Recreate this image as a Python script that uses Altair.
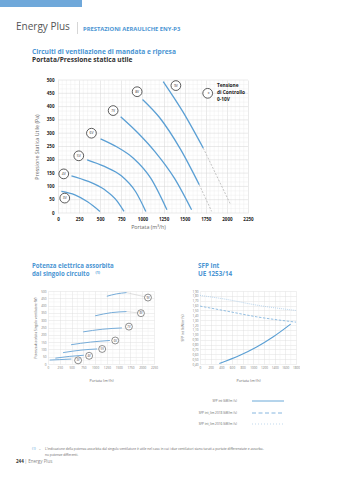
import altair as alt
import pandas as pd

FONT = "Open Sans"
BLUE = "#4a95d3"
CURVE = "#5a9fd4"
DARK = "#333333"
GRAY = "#666666"

# ---------------- data: main chart (Portata / Pressione statica utile)
main_x_ticks = [0, 250, 500, 750, 1000, 1250, 1500, 1750, 2000, 2250]
main_y_ticks = [0, 50, 100, 150, 200, 250, 300, 350, 400, 450, 500]
main_speeds = ["3V", "4V", "5V", "6V", "7V", "8V", "9V"]
main_cx = [[40, 200, 350, 496], [159, 350, 550, 700, 782], [345, 550, 750, 920, 1040],
           [504, 700, 893, 1100, 1290], [742, 950, 1150, 1380, 1582],
           [1001, 1200, 1450, 1673], [1246, 1480, 1720]]
main_cy = [[81, 68, 42, 6], [140, 120, 88, 45, 6], [200, 175, 140, 80, 6],
           [279, 248, 206, 130, 12], [362, 300, 230, 130, 12],
           [427, 360, 240, 106], [494, 380, 244]]
main_ext_speeds = ["8V", "9V"]
main_ext_x = [[1673, 1820], [1720, 2045]]
main_ext_y = [[106, 6], [244, 31]]
main_lab_x = [80, 68, 246, 396, 653, 937, 1396]
main_lab_y = [56, 147, 215, 300, 385, 456, 479]

# ---------------- data: power chart
pw_x_ticks = [0, 250, 500, 750, 1000, 1250, 1500, 1750, 2000, 2250]
pw_y_ticks = [0, 50, 100, 150, 200, 250, 300, 350, 400, 450, 500]
pw_cx = [[35, 250, 497], [156, 450, 760], [320, 700, 1043], [490, 900, 1313],
         [745, 1150, 1569], [1000, 1350, 1668], [1249, 1450, 1668]]
pw_cy = [[27, 30, 34], [40, 52, 60], [78, 95, 103], [132, 150, 161],
         [220, 238, 247], [330, 352, 359], [464, 480, 489]]
pw_lab_x = [639, 873, 1150, 1427, 1718, 1973, 2122]
pw_lab_y = [25, 56, 103, 161, 256, 348, 455]
pw_conn_speeds = ["8V", "9V"]
pw_conn_x = [[1668, 1973], [1668, 2122]]
pw_conn_y = [[359, 348], [489, 455]]

# ---------------- data: SFP chart
sfp_x_ticks = [0, 200, 400, 600, 800, 1000, 1200, 1400, 1600, 1800]
sfp_y_ticks = [0.4, 0.5, 0.6, 0.7, 0.8, 0.9, 1.0, 1.1, 1.2, 1.3, 1.4, 1.5, 1.6, 1.7, 1.8, 1.9]
sfp_series = ["int", "lim2018", "lim2016"]
sfp_x = [[363, 750, 1062, 1375, 1700], [0, 486, 1062, 1800], [0, 486, 1062, 1800]]
sfp_y = [[0.41, 0.58, 0.75, 0.96, 1.22], [1.59, 1.49, 1.37, 1.26], [1.81, 1.73, 1.61, 1.50]]


def frame(names, xs, ys, key="s"):
    rows = []
    for n, xx, yy in zip(names, xs, ys):
        for a, b in zip(xx, yy):
            rows.append({key: n, "x": a, "y": b})
    return pd.DataFrame(rows)


def txt(s, x, y, size, color, weight="normal", align="left", baseline="middle", angle=0):
    return alt.Chart(pd.DataFrame({"t": [s]})).mark_text(
        align=align, baseline=baseline, fontSize=size, color=color,
        fontWeight=weight, font=FONT, angle=angle
    ).encode(x=alt.value(x), y=alt.value(y), text="t:N")


def vrules(vals, X, color, width=0.4):
    return alt.Chart(pd.DataFrame({"x": vals})).mark_rule(color=color, strokeWidth=width).encode(x=X)


def hrules(vals, x0, x1, X, Y, color, width=0.4):
    df = pd.DataFrame({"y": vals, "x": [x0] * len(vals), "xe": [x1] * len(vals)})
    return alt.Chart(df).mark_rule(color=color, strokeWidth=width).encode(x=X, x2="xe:Q", y=Y)


def small_axis(values, title, tsize, tpad, **kw):
    return alt.Axis(values=values, title=title, titleFontSize=tsize, titleColor=GRAY,
                    titleFontWeight="normal", titlePadding=tpad, labelFontSize=3.1,
                    labelColor="#777", labelPadding=2, grid=True, gridColor="#d8d8d8",
                    gridWidth=0.4, ticks=False, domain=False, labelFlush=False, **kw)


# ================= MAIN CHART =================
# the plot area is extended 10 px to the left (negative part of the domain shows nothing)
mxs = alt.Scale(domain=[-118.4, 2250], nice=False)
mys = alt.Scale(domain=[0, 500], nice=False)
MX_AX = alt.Axis(values=main_x_ticks, format="d", title="Portata (m³/h)", titleFontSize=5.3,
                 titleColor=GRAY, titleFontWeight="normal", titlePadding=4, labelFontSize=4.5,
                 labelColor="#222", labelFontWeight="bold", labelPadding=3, grid=True,
                 gridColor="#d4d4d4", gridWidth=0.5, ticks=False, domain=False, labelFlush=False)
MY_AX = alt.Axis(values=main_y_ticks, format="d", title="Pressione Statica Utile (Pa)",
                 titleFontSize=5.3, titleColor=GRAY, titleFontWeight="normal", titlePadding=7,
                 labelFontSize=4.5, labelColor="#222", labelFontWeight="bold", labelPadding=4,
                 grid=False, ticks=False, domain=False, labelFlush=False, offset=-10)
MX = alt.X("x:Q", scale=mxs, axis=MX_AX)
MY = alt.Y("y:Q", scale=mys, axis=MY_AX)

main_minor_x = [v for v in range(50, 2250, 50) if v % 250]
main_minor_y = [round(i * 50 / 3, 2) for i in range(1, 30) if i % 3]

main_lines = alt.Chart(frame(main_speeds, main_cx, main_cy)).mark_line(
    color=CURVE, strokeWidth=1.3, interpolate="monotone"
).encode(x=MX, y=MY, detail="s:N")
main_ext = alt.Chart(frame(main_ext_speeds, main_ext_x, main_ext_y)).mark_line(
    color="#aaaaaa", strokeWidth=0.7, strokeDash=[2, 1.5]
).encode(x=MX, y=MY, detail="s:N")

main_lab_df = pd.DataFrame({"s": main_speeds, "x": main_lab_x, "y": main_lab_y})
main_circ = alt.Chart(main_lab_df).mark_point(
    shape="circle", size=95, filled=True, fill="white", stroke="#333", strokeWidth=0.8, opacity=1
).encode(x=MX, y=MY)
main_circ_t = alt.Chart(main_lab_df).mark_text(fontSize=3.4, color=DARK, font=FONT).encode(
    x=MX, y=MY, text="s:N")

leg_circle = alt.Chart(pd.DataFrame({"t": ["x"]})).mark_point(
    shape="circle", size=95, filled=True, fill="white", stroke="#333", strokeWidth=0.8, opacity=1
).encode(x=alt.value(159.7), y=alt.value(13.3))

main_header = [
    alt.Chart(pd.DataFrame({"t": ["bar"]})).mark_rect(color="#6fa8da").encode(
        x=alt.value(-48), x2=alt.value(34), y=alt.value(-80), y2=alt.value(-73)),
    txt("Energy Plus", -32, -50, 10, "#555555", baseline="alphabetic"),
    alt.Chart(pd.DataFrame({"t": ["sep"]})).mark_rule(color="#bbbbbb", strokeWidth=0.6).encode(
        x=alt.value(29.5), y=alt.value(-58), y2=alt.value(-46)),
    txt("PRESTAZIONI AERAULICHE ENY-P3", 35, -51.5, 5.8, BLUE, "bold"),
    txt("Circuiti di ventilazione di mandata e ripresa", -16, -28.3, 6.6, BLUE, "bold"),
    txt("Portata/Pressione statica utile", -16, -19.7, 6.6, DARK, "bold"),
    txt("x", 159.7, 13.3, 3.4, DARK),
    txt("Tensione", 169, 6, 4.8, "#222", "bold"),
    txt("di Controllo", 169, 13.3, 4.8, "#222", "bold"),
    txt("0-10V", 169, 20, 4.8, "#222", "bold"),
]

main = alt.layer(
    vrules(main_minor_x, MX, "#ececec"),
    hrules(main_minor_y, 0, 2250, MX, MY, "#ececec"),
    hrules(main_y_ticks, 0, 2250, MX, MY, "#d4d4d4", 0.5),
    main_lines, main_ext, main_circ, main_circ_t, leg_circle, *main_header
).properties(width=200, height=133)

# ================= POWER CHART =================
pxs = alt.Scale(domain=[0, 2250], nice=False)
pys = alt.Scale(domain=[0, 500], nice=False)
PX = alt.X("x:Q", scale=pxs, axis=small_axis(pw_x_ticks, "Portata (m³/h)", 3.7, 9, format="d"))
PY = alt.Y("y:Q", scale=pys, axis=small_axis(
    pw_y_ticks, "Potenza Assorbita Singolo ventilatore (W)", 3.2, 3, format="d"))

pw_lines = alt.Chart(frame(main_speeds, pw_cx, pw_cy)).mark_line(
    color="#76acd9", strokeWidth=1, interpolate="monotone"
).encode(x=PX, y=PY, detail="s:N")
pw_conn = alt.Chart(frame(pw_conn_speeds, pw_conn_x, pw_conn_y)).mark_line(
    color="#c4c4c4", strokeWidth=0.5
).encode(x=PX, y=PY, detail="s:N")
pw_lab_df = pd.DataFrame({"s": main_speeds, "x": pw_lab_x, "y": pw_lab_y})
pw_circ = alt.Chart(pw_lab_df).mark_point(
    shape="circle", size=48, filled=True, fill="white", stroke="#444", strokeWidth=0.6, opacity=1
).encode(x=PX, y=PY)
pw_circ_t = alt.Chart(pw_lab_df).mark_text(fontSize=2.7, color=DARK, font=FONT).encode(
    x=PX, y=PY, text="s:N")

pw_texts = [
    txt("Potenza elettrica assorbita", -16, -25, 6.1, BLUE, "bold"),
    txt("dal singolo circuito", -16, -16.7, 6.1, BLUE, "bold"),
    txt("(1)", 47.5, -18.5, 3.6, BLUE, "bold"),
    txt("(1)", -16, 158.3, 3.3, BLUE),
    txt("–", -9, 158.3, 3.3, GRAY),
    txt("L'indicazione della potenza assorbita dal singolo ventilatore è utile nel caso in cui "
        "i due ventilatori siano tarati a portate differenziate e assorba-", -3, 158.3, 3.3, GRAY),
    txt("no potenze differenti.", -3, 163.5, 3.3, GRAY),
    txt("244", -32, 171.3, 4.5, DARK, "bold"),
    txt("| Energy Plus", -23.5, 171.3, 4.5, "#888888"),
]

power = alt.layer(
    vrules([125, 375, 625, 875, 1125, 1375, 1625, 1875, 2125], PX, "#ececec"),
    hrules([25, 75, 125, 175, 225, 275, 325, 375, 425, 475], 0, 2250, PX, PY, "#ececec"),
    pw_lines, pw_conn, pw_circ, pw_circ_t, *pw_texts
).properties(width=106, height=73)

# ================= SFP CHART =================
sxs = alt.Scale(domain=[0, 1800], nice=False)
sys_ = alt.Scale(domain=[0.4, 1.9], nice=False)
SX = alt.X("x:Q", scale=sxs, axis=small_axis(sfp_x_ticks, "Portata (m³/h)", 3.7, 9, format="d"))
SY = alt.Y("y:Q", scale=sys_, axis=small_axis(
    sfp_y_ticks, "SFP int (kW/m³/s)", 3.4, 7,
    labelExpr="replace(format(datum.value, '.2f'), '.', ',')"))
sfp_df = frame(sfp_series, sfp_x, sfp_y)

sfp_solid = alt.Chart(sfp_df).transform_filter(alt.datum.s == "int").mark_line(
    color=CURVE, strokeWidth=1.1, interpolate="monotone").encode(x=SX, y=SY)
sfp_dash = alt.Chart(sfp_df).transform_filter(alt.datum.s == "lim2018").mark_line(
    color="#78aedb", strokeWidth=0.8, strokeDash=[2.5, 1.5], interpolate="monotone").encode(x=SX, y=SY)
sfp_dot = alt.Chart(sfp_df).transform_filter(alt.datum.s == "lim2016").mark_line(
    color="#a9cbe8", strokeWidth=0.8, strokeDash=[1, 1], interpolate="monotone").encode(x=SX, y=SY)


def leg_rule(y, color, dash):
    m = alt.Chart(pd.DataFrame({"t": [y]})).mark_rule(color=color, strokeWidth=0.9, strokeDash=dash)
    return m.encode(x=alt.value(52), x2=alt.value(84), y=alt.value(y))


sfp_texts = [
    txt("SFP int", -2, -25, 6.3, BLUE, "bold"),
    txt("UE 1253/14", -2, -16.7, 6.3, BLUE, "bold"),
    txt("SFP int (kW/m³/s)", 37, 110, 3.1, GRAY, align="right"),
    txt("SFP int_lim 2018 (kW/m³/s)", 37, 122, 3.1, GRAY, align="right"),
    txt("SFP int_lim 2016 (kW/m³/s)", 37, 133, 3.1, GRAY, align="right"),
    leg_rule(110, CURVE, [1, 0]),
    leg_rule(122, "#78aedb", [4, 2.5]),
    leg_rule(133, "#a9cbe8", [0.8, 2.2]),
]

sfp = alt.layer(
    vrules([100, 300, 500, 700, 900, 1100, 1300, 1500, 1700], SX, "#ececec"),
    sfp_solid, sfp_dash, sfp_dot, *sfp_texts
).properties(width=96, height=73)

# ================= PAGE =================
row2 = alt.hconcat(power, sfp, spacing=46, bounds="flush")
chart = alt.vconcat(main, row2, spacing=78, bounds="flush", padding=0).configure(
    font=FONT, background="white").configure_view(stroke=None)

chart.save("out.html", embed_options={"renderer": "svg", "actions": False})
